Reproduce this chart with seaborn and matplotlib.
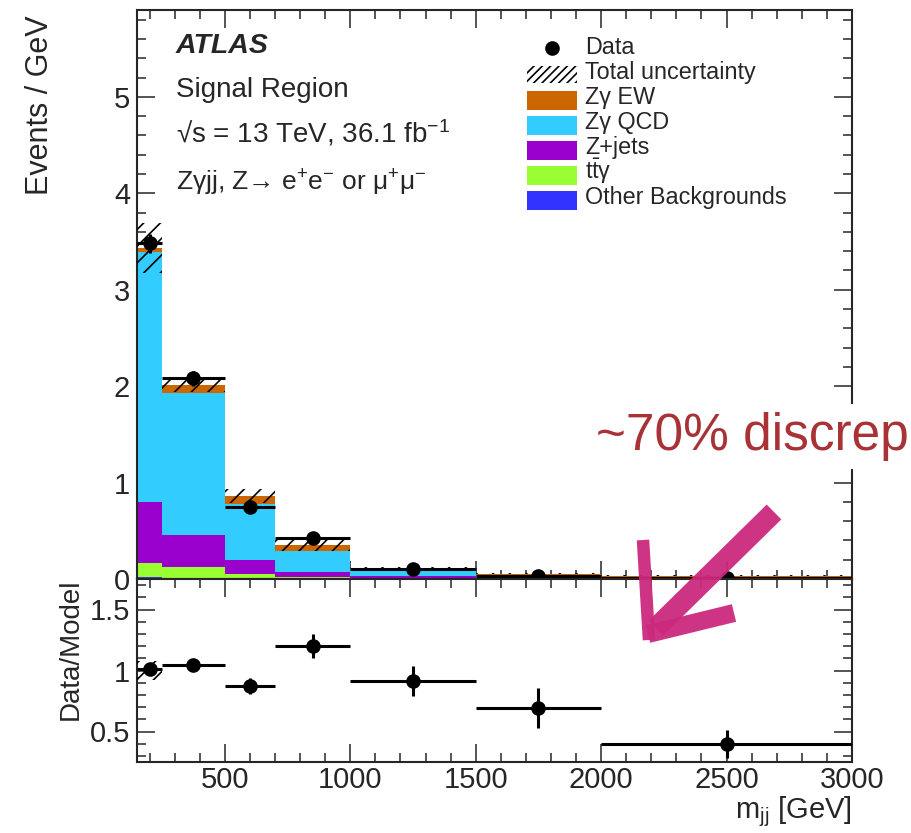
import numpy as np
import pandas as pd
import matplotlib
matplotlib.use("Agg")
import matplotlib.pyplot as plt
import seaborn as sns
from matplotlib.lines import Line2D
from matplotlib.patches import Rectangle
from matplotlib.ticker import MultipleLocator

# ---------------------------------------------------------------- data
# m_jj binning [GeV]
bin_edges = [150, 250, 500, 700, 1000, 1500, 2000, 3000]

# stacked predictions in events / GeV (listed from top of the stack down)
process_names = ["Zγ EW", "Zγ QCD", "Z+jets", r"$\mathrm{t\bar{t}\gamma}$", "Other Backgrounds"]
process_colors = ["#CC6600", "#33CCFF", "#9900CC", "#99FF33", "#3333FF"]
zg_ew = [0.040, 0.080, 0.085, 0.060, 0.015, 0.008, 0.008]
zg_qcd = [2.590, 1.470, 0.575, 0.225, 0.067, 0.034, 0.018]
z_jets = [0.630, 0.340, 0.150, 0.050, 0.020, 0.006, 0.004]
ttgamma = [0.150, 0.105, 0.040, 0.012, 0.005, 0.002, 0.001]
other_bkg = [0.020, 0.015, 0.010, 0.008, 0.005, 0.003, 0.002]

# total (stat+syst) uncertainty on the prediction, events / GeV
total_unc = [0.26, 0.07, 0.07, 0.065, 0.010, 0.005, 0.004]

# observed data
data_values = [3.48, 2.08, 0.745, 0.42, 0.103, 0.033, 0.0118]
data_errors = [0.10, 0.08, 0.05, 0.04, 0.013, 0.008, 0.0035]

# data / model ratio
ratio_values = [1.01, 1.046, 0.876, 1.20, 0.913, 0.69, 0.394]
ratio_errors = [0.03, 0.025, 0.065, 0.10, 0.12, 0.165, 0.115]
ratio_band = [0.075, 0, 0, 0, 0, 0, 0]

# ---------------------------------------------------------------- style
sns.set_style("ticks")
plt.rcParams["font.family"] = ["Liberation Sans", "DejaVu Sans"]
plt.rcParams["mathtext.fontset"] = "custom"
plt.rcParams["mathtext.rm"] = "Liberation Sans"
plt.rcParams["mathtext.it"] = "Liberation Sans:italic"
plt.rcParams["mathtext.bf"] = "Liberation Sans:bold"
plt.rcParams["hatch.linewidth"] = 1.2
plt.rcParams["axes.linewidth"] = 1.5

W, H = 911, 833


def fx(px):
    return px / W


def fy(py):
    return 1 - py / H


edges = np.array(bin_edges, dtype=float)
centers = 0.5 * (edges[:-1] + edges[1:])
widths = np.diff(edges)

components = [zg_ew, zg_qcd, z_jets, ttgamma, other_bkg]
total = np.sum(np.array(components), axis=0)

long_df = pd.concat(
    [pd.DataFrame({"m_jj": centers, "events": vals, "process": name})
     for name, vals in zip(process_names, components)],
    ignore_index=True,
)

fig = plt.figure(figsize=(W / 100, H / 100), dpi=100)
ax = fig.add_axes([fx(137), fy(579), 715 / W, 569 / H])
rax = fig.add_axes([fx(137), fy(762), 715 / W, 183 / H], sharex=ax)

# ---------------------------------------------------------------- main panel
sns.histplot(
    data=long_df, x="m_jj", weights="events", hue="process",
    hue_order=process_names, palette=dict(zip(process_names, process_colors)),
    multiple="stack", bins=bin_edges, element="bars", fill=True, alpha=1,
    linewidth=0, legend=False, ax=ax,
)

unc = np.array(total_unc)
ax.bar(centers, 2 * unc, width=widths, bottom=total - unc, fill=False,
       hatch="//", edgecolor="black", linewidth=0, zorder=3)

ax.errorbar(centers, data_values, xerr=widths / 2, yerr=data_errors, fmt="o",
            color="black", ms=9.5, elinewidth=2.2, capsize=0, zorder=4)

ax.set_xlim(150, 3000)
ax.set_ylim(0, 5.9)
ax.set_yticks([0, 1, 2, 3, 4, 5])
ax.yaxis.set_minor_locator(MultipleLocator(0.2))
ax.set_xlabel("")
ax.set_ylabel("Events / GeV", fontsize=22, loc="top")
ax.yaxis.set_label_coords(-0.115, 0.99)

# ---------------------------------------------------------------- ratio panel
rband = np.array(ratio_band)
rax.bar(centers, 2 * rband, width=widths, bottom=1 - rband, fill=False,
        hatch="//", edgecolor="black", linewidth=0, zorder=3)
rax.errorbar(centers, ratio_values, xerr=widths / 2, yerr=ratio_errors, fmt="o",
             color="black", ms=9.5, elinewidth=2.2, capsize=0, zorder=4)
rax.set_ylim(0.25, 1.75)
rax.set_yticks([0.5, 1, 1.5], ["0.5", "1", "1.5"])
rax.yaxis.set_minor_locator(MultipleLocator(0.1))
rax.set_ylabel("Data/Model", fontsize=20, loc="top")
rax.yaxis.set_label_coords(-0.074, 1.0)
rax.set_xlabel(r"m$_{\mathrm{jj}}$ [GeV]", fontsize=21, loc="right")
rax.xaxis.set_label_coords(1.0, -0.175)

for a in (ax, rax):
    a.xaxis.set_major_locator(MultipleLocator(500))
    a.xaxis.set_minor_locator(MultipleLocator(100))
    a.tick_params(which="both", direction="in", top=True, right=True,
                  width=1.1, labelsize=21, pad=5)
    a.tick_params(which="major", length=13)
    a.tick_params(which="minor", length=6.5)
    for s in a.spines.values():
        s.set_linewidth(1.5)
ax.tick_params(labelbottom=False)
rax.tick_params(axis="x", pad=3)

# ---------------------------------------------------------------- labels
fig.text(fx(176), fy(53), "ATLAS", fontsize=20.5, fontweight="bold",
         fontstyle="italic", va="baseline")
fig.text(fx(176), fy(97), "Signal Region", fontsize=20, va="baseline")
fig.text(fx(176), fy(142), "√s = 13 TeV, 36.1 fb$^{-1}$", fontsize=20, va="baseline")
fig.text(fx(176), fy(190), "Zγjj, Z→ e$^{+}$e$^{-}$ or μ$^{+}$μ$^{-}$",
         fontsize=19, va="baseline")

# legend, drawn row by row
legend_labels = ["Data", "Total uncertainty"] + process_names
row0, step = 54, 25
for i, label in enumerate(legend_labels):
    base = row0 + i * step
    if i == 0:
        fig.add_artist(Line2D([fx(552)], [fy(base - 6)], marker="o", ms=9.5,
                              color="black", transform=fig.transFigure))
    elif i == 1:
        fig.add_artist(Rectangle((fx(527), fy(base + 4)), 50 / W, 17 / H,
                                 fill=False, hatch="////", edgecolor="black",
                                 linewidth=0, transform=fig.transFigure))
    else:
        fig.add_artist(Rectangle((fx(527), fy(base + 6)), 50 / W, 19 / H,
                                 facecolor=process_colors[i - 2], edgecolor="none",
                                 transform=fig.transFigure))
    fig.text(fx(585), fy(base), label, fontsize=16.8, va="baseline")

# call-out
fig.text(fx(596), fy(450), "~70% discrep", fontsize=37, color="#A83236",
         va="baseline", zorder=6,
         bbox=dict(boxstyle="square,pad=0.15", facecolor="white", edgecolor="none"))

pink = "#CC297D"
strokes = [
    ((774, 512), (656, 628), 15),
    ((643, 540), (649, 640), 9),
    ((648, 634), (734, 613), 13),
]
for (x0, y0), (x1, y1), lw in strokes:
    fig.add_artist(Line2D([fx(x0), fx(x1)], [fy(y0), fy(y1)], color=pink,
                          lw=lw, alpha=0.95, solid_capstyle="butt",
                          transform=fig.transFigure, zorder=7))

fig.savefig("out.png", dpi=100)
